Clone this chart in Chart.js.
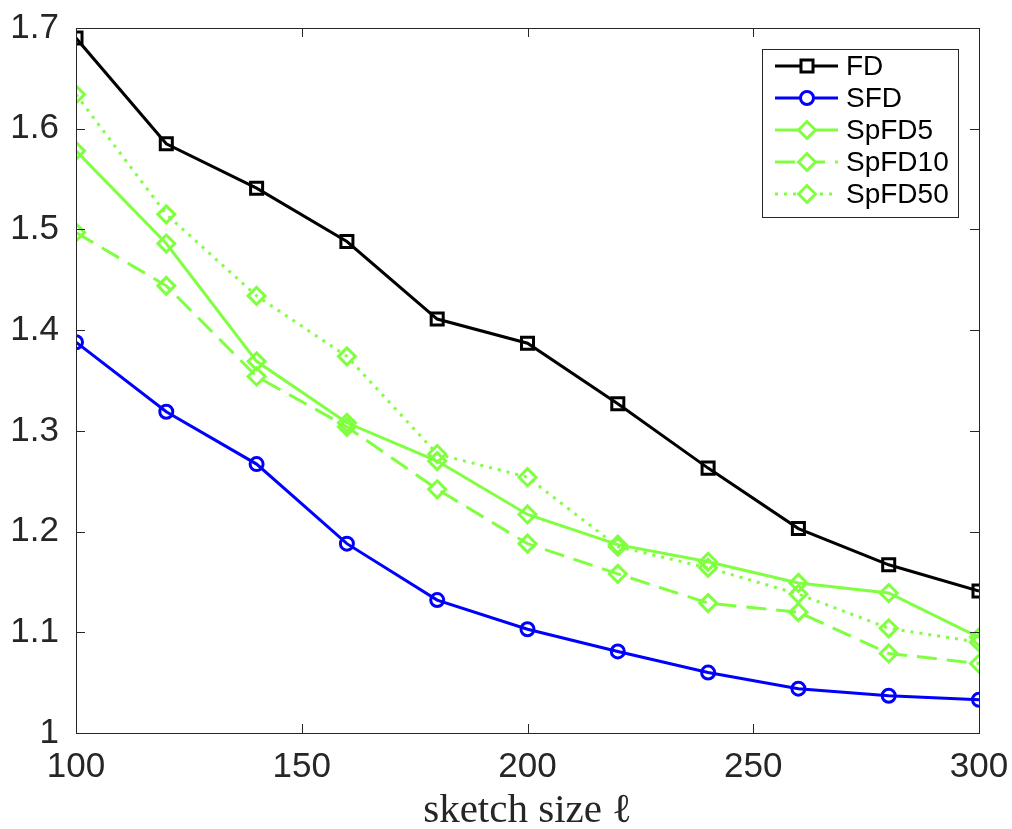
<!DOCTYPE html>
<html><head><meta charset="utf-8">
<script src="https://cdn.jsdelivr.net/npm/chart.js@4/dist/chart.umd.min.js"></script>
<style>html,body{margin:0;padding:0;background:#fff}#wrap{width:1012px;height:829px}</style>
</head><body><div id="wrap"><canvas id="c" width="1012" height="829"></canvas></div>
<script>
const sketchSizes = [100,120,140,160,180,200,220,240,260,280,300];
const fd     = [1.690,1.585,1.541,1.488,1.411,1.387,1.327,1.263,1.203,1.167,1.141];
const sfd    = [1.388,1.319,1.267,1.188,1.132,1.103,1.081,1.060,1.044,1.037,1.033];
const spfd5  = [1.578,1.486,1.369,1.308,1.270,1.217,1.187,1.170,1.149,1.139,1.095];
const spfd10 = [1.497,1.444,1.354,1.304,1.242,1.188,1.158,1.129,1.120,1.079,1.069];
const spfd50 = [1.634,1.515,1.434,1.374,1.277,1.254,1.185,1.164,1.138,1.104,1.090];
const seriesNames = ['FD','SFD','SpFD5','SpFD10','SpFD50'];
const xTicks = [100,150,200,250,300];
const yTicks = [1,1.1,1.2,1.3,1.4,1.5,1.6,1.7];
const xTitle = 'sketch size ℓ';

const GREEN = 'rgb(128,255,64)';
function pts(arr){return sketchSizes.map((x,i)=>({x:x,y:arr[i]}));}
function ds(label,data,color,style,radius,dash){
  return {label:label,data:pts(data),borderColor:color,backgroundColor:'transparent',
    borderWidth:3,borderDash:dash,pointStyle:style,pointRadius:radius,pointHoverRadius:radius,
    pointBorderColor:color,pointBackgroundColor:'transparent',pointBorderWidth:3,tension:0};
}
const datasets = [
  ds(seriesNames[0],fd,'#000000','rect',8.5,[]),
  ds(seriesNames[1],sfd,'#0000ff','circle',6.5,[]),
  ds(seriesNames[2],spfd5,GREEN,'rectRot',8.5,[]),
  ds(seriesNames[3],spfd10,GREEN,'rectRot',8.5,[20,10]),
  ds(seriesNames[4],spfd50,GREEN,'rectRot',8.5,[3,6])
];

const boxPlugin = {
  id:'box',
  afterDraw(chart){
    const {ctx, chartArea:a, scales:{x,y}} = chart;
    ctx.save();
    ctx.strokeStyle='#262626'; ctx.lineWidth=1;
    ctx.strokeRect(a.left+0.5,a.top+0.5,a.right-a.left,a.bottom-a.top);
    const tl=9;
    ctx.beginPath();
    xTicks.forEach(v=>{const px=Math.round(x.getPixelForValue(v))+0.5;
      ctx.moveTo(px,a.bottom);ctx.lineTo(px,a.bottom-tl);
      ctx.moveTo(px,a.top);ctx.lineTo(px,a.top+tl);});
    yTicks.forEach(v=>{const py=Math.round(y.getPixelForValue(v))+0.5;
      ctx.moveTo(a.left,py);ctx.lineTo(a.left+tl,py);
      ctx.moveTo(a.right,py);ctx.lineTo(a.right-tl,py);});
    ctx.stroke();
    // legend
    const lx=762, ly=49, lw=196, lh=168;
    ctx.fillStyle='#fff'; ctx.fillRect(lx,ly,lw,lh);
    ctx.strokeStyle='#262626'; ctx.lineWidth=1;
    ctx.strokeRect(lx+0.5,ly+0.5,lw,lh);
    ctx.font='28px "Liberation Sans", Arial, sans-serif';
    ctx.textBaseline='middle'; ctx.textAlign='left';
    chart.data.datasets.forEach((d,i)=>{
      const cy=66+i*32;
      ctx.save();
      ctx.strokeStyle=d.borderColor; ctx.lineWidth=3; ctx.setLineDash(d.borderDash);
      ctx.beginPath(); ctx.moveTo(775,cy); ctx.lineTo(838,cy); ctx.stroke();
      ctx.setLineDash([]);
      ctx.fillStyle='#ffffff';
      ctx.lineWidth=3;
      Chart.helpers.drawPoint(ctx,{pointStyle:d.pointStyle,radius:d.pointRadius,borderWidth:3},807,cy);
      ctx.restore();
      ctx.fillStyle='#000';
      ctx.fillText(d.label,846,cy+1);
    });
    ctx.restore();
  }
};

function zeroPad(s){s.paddingTop=0;s.paddingBottom=0;s.paddingLeft=0;s.paddingRight=0;}

new Chart(document.getElementById('c'),{
  type:'line',
  data:{datasets:datasets},
  options:{
    responsive:false, animation:false, devicePixelRatio:1,
    layout:{padding:{top:28,right:33,left:0,bottom:0}},
    plugins:{legend:{display:false},tooltip:{enabled:false}},
    scales:{
      x:{type:'linear',min:100,max:300,
        afterBuildTicks(s){s.ticks=xTicks.map(v=>({value:v}));},
        afterFit(s){s.height=96;zeroPad(s);},
        grid:{display:false,drawTicks:false},border:{display:false},
        ticks:{color:'#262626',padding:13,font:{family:'"Liberation Sans", Arial, sans-serif',size:35},maxRotation:0},
        title:{display:true,text:xTitle,color:'#262626',font:{family:'"Liberation Serif","Times New Roman",serif',size:41},padding:{top:0,bottom:-7}}
      },
      y:{type:'linear',min:1,max:1.7,
        afterBuildTicks(s){s.ticks=yTicks.map(v=>({value:v}));},
        afterFit(s){s.width=76;zeroPad(s);},
        grid:{display:false,drawTicks:false},border:{display:false},
        ticks:{color:'#262626',padding:17,font:{family:'"Liberation Sans", Arial, sans-serif',size:35},
          callback:(v)=>String(Math.round(v*10)/10)}
      }
    }
  },
  plugins:[boxPlugin]
});
</script></body></html>
